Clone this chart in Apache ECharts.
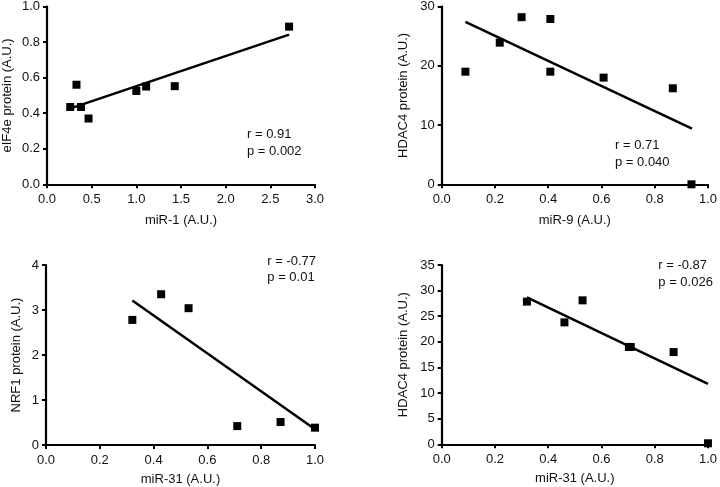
<!DOCTYPE html>
<html><head><meta charset="utf-8">
<script src="https://cdn.jsdelivr.net/npm/echarts@6/dist/echarts.min.js"></script>
<style>html,body{margin:0;padding:0;background:#fff}#c{width:720px;height:487px}</style>
</head><body><div id="c"></div>
<script>
// Panel A: miR-1 vs eIF4e
const aX = [0.26, 0.33, 0.38, 0.465, 1.0, 1.11, 1.43, 2.71];
const aY = [0.435, 0.56, 0.435, 0.37, 0.525, 0.55, 0.552, 0.887];
const aFitX = [0.28, 2.71];
const aFitY = [0.43, 0.842];
// Panel B: miR-9 vs HDAC4
const bX = [0.089, 0.218, 0.30, 0.408, 0.408, 0.608, 0.868, 0.938];
const bY = [19.0, 23.9, 28.2, 27.9, 19.0, 18.0, 16.2, 0.0];
const bFitX = [0.089, 0.94];
const bFitY = [27.4, 9.4];
// Panel C: miR-31 vs NRF1
const cX = [0.321, 0.428, 0.53, 0.711, 0.872, 1.0];
const cY = [2.78, 3.35, 3.04, 0.42, 0.51, 0.385];
const cFitX = [0.321, 1.0];
const cFitY = [3.21, 0.35];
// Panel D: miR-31 vs HDAC4
const dX = [0.32, 0.461, 0.529, 0.703, 0.71, 0.871, 1.0];
const dY = [27.85, 23.8, 28.1, 19.0, 19.0, 18.0, 0.2];
const dFitX = [0.32, 1.0];
const dFitY = [28.7, 11.8];

// Tick labels
const aXTicks = ['0.0','0.5','1.0','1.5','2.0','2.5','3.0'];
const aYTicks = ['0.0','0.2','0.4','0.6','0.8','1.0'];
const bXTicks = ['0.0','0.2','0.4','0.6','0.8','1.0'];
const bYTicks = ['0','10','20','30'];
const cXTicks = ['0.0','0.2','0.4','0.6','0.8','1.0'];
const cYTicks = ['0','1','2','3','4'];
const dXTicks = ['0.0','0.2','0.4','0.6','0.8','1.0'];
const dYTicks = ['0','5','10','15','20','25','30','35'];

// Titles and annotations
const xNames = ['miR-1 (A.U.)', 'miR-9 (A.U.)', 'miR-31 (A.U.)', 'miR-31 (A.U.)'];
const yNames = ['eIF4e protein (A.U.)', 'HDAC4 protein (A.U.)', 'NRF1 protein (A.U.)', 'HDAC4 protein (A.U.)'];
const statR = ['r = 0.91', 'r = 0.71', 'r = -0.77', 'r = -0.87'];
const statP = ['p = 0.002', 'p = 0.040', 'p = 0.01', 'p = 0.026'];

const FONT = 'Liberation Sans, Arial, sans-serif';
const TXT = '#111';

function zip(xs, ys){ return xs.map((x,i)=>[x, ys[i]]); }

const grids = [
  {left: 46, top: 5.8, width: 269, height: 178.5},
  {left: 441.7, top: 5.3, width: 270, height: 179},
  {left: 46, top: 265, width: 269, height: 180},
  {left: 441.7, top: 265, width: 269, height: 179.3}
];
const xCfg = [
  {max: 3, interval: 0.5, ticks: aXTicks, gap: 30},
  {max: 1, interval: 0.2, ticks: bXTicks, gap: 30},
  {max: 1, interval: 0.2, ticks: cXTicks, gap: 28},
  {max: 1, interval: 0.2, ticks: dXTicks, gap: 28}
];
const yCfg = [
  {max: 1, interval: 0.2, ticks: aYTicks, gap: 33},
  {max: 30, interval: 10, ticks: bYTicks, gap: 32},
  {max: 4, interval: 1, ticks: cYTicks, gap: 23},
  {max: 35, interval: 5, ticks: dYTicks, gap: 32}
];

function axisBase(){
  return {
    type: 'value', min: 0,
    splitLine: {show: false},
    axisLine: {show: true, onZero: false, lineStyle: {color: '#000', width: 2.2}},
    axisTick: {show: true, length: 4, lineStyle: {color: '#000', width: 2}},
    nameLocation: 'middle',
    nameTextStyle: {fontFamily: FONT, fontSize: 13, color: TXT}
  };
}

const xAxes = xCfg.map((c,i)=>Object.assign(axisBase(), {
  gridIndex: i, max: c.max, interval: c.interval, name: xNames[i], nameGap: c.gap,
  axisLabel: {fontFamily: FONT, fontSize: 13, color: TXT, margin: 9,
    formatter: (v, idx) => c.ticks[idx] !== undefined ? c.ticks[idx] : String(v)}
}));
const yAxes = yCfg.map((c,i)=>Object.assign(axisBase(), {
  gridIndex: i, max: c.max, interval: c.interval, name: yNames[i], nameGap: c.gap, nameRotate: 90,
  axisLabel: {fontFamily: FONT, fontSize: 13, color: TXT, margin: 7,
    formatter: (v, idx) => c.ticks[idx] !== undefined ? c.ticks[idx] : String(v)}
}));

const pts = [zip(aX,aY), zip(bX,bY), zip(cX,cY), zip(dX,dY)];
const fits = [zip(aFitX,aFitY), zip(bFitX,bFitY), zip(cFitX,cFitY), zip(dFitX,dFitY)];

const series = [];
for (let i=0;i<4;i++){
  series.push({type:'line', xAxisIndex:i, yAxisIndex:i, data: fits[i], symbol:'none', clip:false,
    lineStyle:{color:'#000', width:2.5}, silent:true, z:2});
  series.push({type:'scatter', xAxisIndex:i, yAxisIndex:i, data: pts[i], symbol:'rect', symbolSize:8, clip:false,
    itemStyle:{color:'#000', opacity:1}, z:3});
}

const annPos = [
  {x: 247, y1: 134.3, y2: 151},
  {x: 615, y1: 145, y2: 162},
  {x: 267.3, y1: 261.7, y2: 277.7},
  {x: 658.3, y1: 265, y2: 282.3}
];
const graphic = [];
annPos.forEach((p,i)=>{
  graphic.push({type:'text', x:p.x, y:p.y1, style:{text: statR[i], font: '13px ' + FONT, fill: TXT, verticalAlign:'middle'}});
  graphic.push({type:'text', x:p.x, y:p.y2, style:{text: statP[i], font: '13px ' + FONT, fill: TXT, verticalAlign:'middle'}});
});

const chart = echarts.init(document.getElementById('c'), null, {renderer:'canvas'});
chart.setOption({
  animation: false,
  backgroundColor: '#fff',
  grid: grids,
  xAxis: xAxes,
  yAxis: yAxes,
  series: series,
  graphic: graphic
});
</script>
</body></html>
